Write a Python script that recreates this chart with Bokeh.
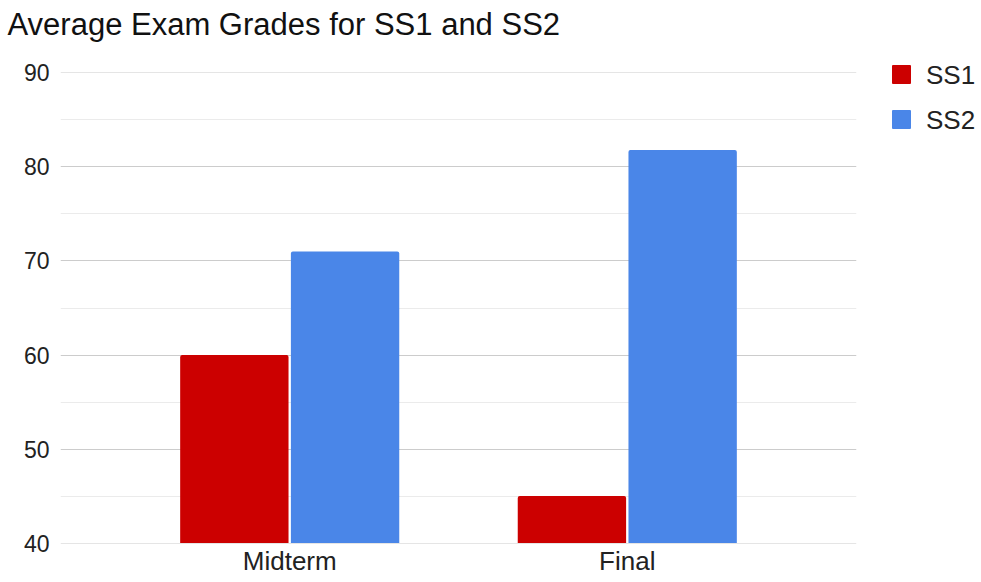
from bokeh.plotting import figure
from bokeh.layouts import row
from bokeh.models import FactorRange, Range1d, FixedTicker, Title, Div
from bokeh.transform import dodge
from bokeh.embed import file_html
from bokeh.resources import INLINE

# ---- data ----
categories = ["Midterm", "Final"]
ss1 = [60, 45]
ss2 = [71, 81.8]
series_names = ["SS1", "SS2"]
y_major_ticks = [40, 50, 60, 70, 80, 90]
y_minor_ticks = [45, 55, 65, 75, 85]
title_text = "Average Exam Grades for SS1 and SS2"

FONT = "Liberation Sans"
RED = "#cc0000"
BLUE = "#4a86e8"
colors = [RED, BLUE]

source = dict(cat=categories, ss1=ss1, ss2=ss2)

# ---------------- main chart ----------------
p = figure(
    x_range=FactorRange(factors=categories, range_padding=0.179),
    y_range=Range1d(39.95, 90.05),
    width=860, height=580,
    output_backend="svg", toolbar_location=None,
    min_border_left=60, min_border_right=4,
    min_border_top=72, min_border_bottom=37,
)
p.outline_line_color = None
p.background_fill_color = "white"
p.border_fill_color = "white"

# spacer between title and plot area, then the title itself
p.add_layout(Title(text=" ", text_font=FONT, text_font_size="14px", standoff=11), "above")
p.add_layout(Title(text=title_text, text_font=FONT, text_font_size="31px",
                   text_font_style="normal", text_color="#111111",
                   align="left", vertical_align="top", offset=-53, standoff=0), "above")

bar_kw = dict(bottom=40, width=0.321, source=source, line_color=None,
              border_radius=(2, 2, 0, 0))
r1 = p.vbar(x=dodge("cat", -0.164, range=p.x_range), top="ss1", fill_color=colors[0], **bar_kw)
r2 = p.vbar(x=dodge("cat", 0.164, range=p.x_range), top="ss2", fill_color=colors[1], **bar_kw)

# axes
p.yaxis.ticker = FixedTicker(ticks=y_major_ticks, minor_ticks=y_minor_ticks)
for ax in (p.xaxis[0], p.yaxis[0]):
    ax.axis_line_color = None
    ax.major_tick_line_color = None
    ax.minor_tick_line_color = None
    ax.major_tick_out = 0
    ax.major_tick_in = 0
    ax.minor_tick_out = 0
    ax.minor_tick_in = 0
    ax.major_label_text_font = FONT
    ax.major_label_text_color = "#222222"
p.yaxis.major_label_text_font_size = "23px"
p.yaxis.major_label_standoff = 11
p.xaxis.major_label_text_font_size = "26px"
p.xaxis.major_label_standoff = 2

# grid
p.xgrid.grid_line_color = None
p.ygrid.grid_line_color = "#cccccc"
p.ygrid.grid_line_width = 1
p.ygrid.minor_grid_line_color = "#ebebeb"
p.ygrid.minor_grid_line_width = 1

# ---------------- legend (to the right of the chart) ----------------
swatch_tops = [65, 110]
items_html = []
for name, color, top in zip(series_names, colors, swatch_tops):
    items_html.append(
        f'<div style="position:absolute;left:32px;top:{top}px;width:19px;height:19px;'
        f'background:{color};border-radius:1px;"></div>'
        f'<div style="position:absolute;left:66px;top:{top - 3.5}px;font-family:\'{FONT}\';'
        f'font-size:26px;line-height:26px;color:#222222;white-space:nowrap;">{name}</div>'
    )
legend_div = Div(
    text='<div style="position:relative;width:117px;height:580px;">' + "".join(items_html) + "</div>",
    width=117, height=580, margin=0,
)

layout = row(p, legend_div, spacing=0)
open("out.html", "w").write(file_html(layout, INLINE))
